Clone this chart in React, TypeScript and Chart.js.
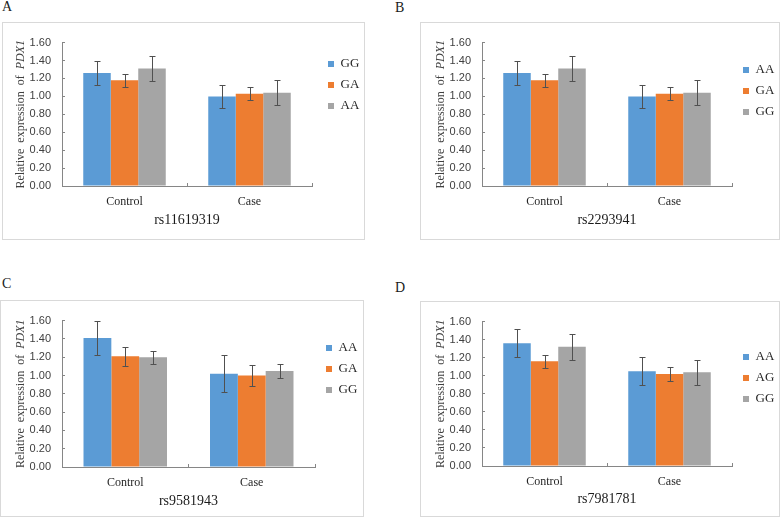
import React, { useEffect, useRef } from 'react';
import { Chart, registerables } from 'chart.js';

Chart.register(...registerables);

// ---------- data ----------
const categories = ['Control', 'Case'];
const yTicks = [0, 0.2, 0.4, 0.6, 0.8, 1.0, 1.2, 1.4, 1.6];
const seriesColors = ['#5B9BD5', '#ED7D31', '#A5A5A5'];

// Panel A (rs11619319)
const genotypesA = ['GG', 'GA', 'AA'];
const meansA = [[1.26, 1.0], [1.18, 1.03], [1.31, 1.04]];
const errorsA = [[0.13, 0.13], [0.07, 0.075], [0.14, 0.14]];

// Panel B (rs2293941)
const genotypesB = ['AA', 'GA', 'GG'];
const meansB = [[1.26, 1.0], [1.18, 1.03], [1.31, 1.04]];
const errorsB = [[0.13, 0.13], [0.07, 0.075], [0.14, 0.14]];

// Panel C (rs9581943)
const genotypesC = ['AA', 'GA', 'GG'];
const meansC = [[1.41, 1.02], [1.21, 1.0], [1.2, 1.05]];
const errorsC = [[0.19, 0.2], [0.105, 0.11], [0.07, 0.075]];

// Panel D (rs7981781)
const genotypesD = ['AA', 'AG', 'GG'];
const meansD = [[1.36, 1.05], [1.16, 1.02], [1.32, 1.04]];
const errorsD = [[0.155, 0.155], [0.075, 0.075], [0.14, 0.14]];

// ---------- plugins ----------
const framePlugin = {
  id: 'frame',
  beforeDraw(chart: any, _args: any, opts: any) {
    const { ctx } = chart;
    ctx.save();
    ctx.fillStyle = '#ffffff';
    ctx.fillRect(0, 0, chart.width, chart.height);
    ctx.strokeStyle = '#d9d9d9';
    ctx.lineWidth = 1;
    ctx.strokeRect(0.5, 0.5, opts.w - 1, opts.h - 1);
    ctx.restore();
  },
};

const errorBarPlugin = {
  id: 'errorBars',
  afterDatasetsDraw(chart: any) {
    const { ctx } = chart;
    const y = chart.scales.y;
    ctx.save();
    ctx.strokeStyle = '#505050';
    ctx.lineWidth = 1;
    chart.data.datasets.forEach((ds: any, i: number) => {
      const meta = chart.getDatasetMeta(i);
      meta.data.forEach((bar: any, j: number) => {
        const v = ds.data[j];
        const e = ds.errors[j];
        const x = Math.round(bar.x) + 0.5;
        const yt = Math.round(y.getPixelForValue(v + e)) + 0.5;
        const yb = Math.round(y.getPixelForValue(v - e)) + 0.5;
        ctx.beginPath();
        ctx.moveTo(x, yt);
        ctx.lineTo(x, yb);
        ctx.moveTo(x - 3, yt);
        ctx.lineTo(x + 3, yt);
        ctx.moveTo(x - 3, yb);
        ctx.lineTo(x + 3, yb);
        ctx.stroke();
      });
    });
    ctx.restore();
  },
};

const yTitlePlugin = {
  id: 'yTitle',
  afterDraw(chart: any) {
    const { ctx, chartArea } = chart;
    const a = 'Relative  expression  of  ';
    const b = 'PDX1';
    ctx.save();
    ctx.translate(chartArea.left - 41, (chartArea.top + chartArea.bottom) / 2);
    ctx.rotate(-Math.PI / 2);
    ctx.fillStyle = '#404040';
    ctx.textBaseline = 'middle';
    ctx.textAlign = 'left';
    ctx.font = '12px "Liberation Serif"';
    const wa = ctx.measureText(a).width;
    ctx.font = 'italic 12px "Liberation Serif"';
    const wb = ctx.measureText(b).width;
    const start = -(wa + wb) / 2;
    ctx.font = '12px "Liberation Serif"';
    ctx.fillText(a, start, 0);
    ctx.font = 'italic 12px "Liberation Serif"';
    ctx.fillText(b, start + wa, 0);
    ctx.restore();
  },
};

// ---------- panel ----------
type PanelCfg = {
  letter: string;
  letterPos: { x: number; y: number };
  box: { x: number; y: number; w: number; h: number };
  area: { left: number; top: number; bottom: number; right: number };
  legend: { x: number; y: number };
  titleOffset: number;
  title: string;
  series: string[];
  means: number[][];
  errors: number[][];
};

const LEG_FS = 13;
const LEG_PAD = 8;

function Panel({ cfg }: { cfg: PanelCfg }) {
  const ref = useRef<HTMLCanvasElement | null>(null);
  useEffect(() => {
    if (!ref.current) return;
    const { box, area, legend } = cfg;
    const spacer = legend.x - LEG_PAD - area.right;
    const titleH = legend.y - area.top - LEG_PAD - LEG_FS / 2;
    const xTitleLH = 14 * 1.2;
    const xTitlePadBottom = box.h - xTitleLH / 2 - (area.bottom + cfg.titleOffset);
    const options: any = {
      responsive: false,
      maintainAspectRatio: false,
      animation: false,
      layout: { padding: { left: 0, top: area.top, right: 0, bottom: 0 } },
      scales: {
        x: {
          type: 'category',
          offset: true,
          grid: { offset: true, drawOnChartArea: false, drawTicks: true, tickLength: -3, color: '#868686' },
          border: { display: true, color: '#868686', width: 1 },
          ticks: { font: { family: 'Liberation Serif', size: 12 }, color: '#262626', padding: 11.5, maxRotation: 0 },
          title: {
            display: true,
            text: cfg.title,
            font: { family: 'Liberation Serif', size: 14 },
            color: '#1a1a1a',
            padding: { top: 0, bottom: xTitlePadBottom },
          },
          afterFit: (s: any) => {
            s.height = box.h - area.bottom;
          },
        },
        y: {
          type: 'linear',
          min: yTicks[0],
          max: yTicks[yTicks.length - 1],
          afterBuildTicks: (s: any) => {
            s.ticks = yTicks.map((v) => ({ value: v }));
          },
          ticks: {
            callback: (v: any) => Number(v).toFixed(2),
            font: { family: 'Liberation Sans', size: 11 },
            color: '#404040',
            padding: 14,
          },
          grid: { drawOnChartArea: false, drawTicks: true, tickLength: -3, color: '#868686' },
          border: { display: true, color: '#868686', width: 1 },
          afterFit: (s: any) => {
            s.width = area.left;
          },
        },
        ySpacer: {
          type: 'linear',
          position: 'right',
          display: true,
          min: 0,
          max: 1,
          grid: { display: false, drawTicks: false },
          border: { display: false },
          ticks: { display: false },
          afterFit: (s: any) => {
            s.width = spacer;
          },
        },
      },
      plugins: {
        frame: { w: box.w, h: box.h },
        tooltip: { enabled: false },
        legend: {
          position: 'right',
          align: 'start',
          title: {
            display: true,
            text: ' ',
            font: { size: 1, lineHeight: 1 },
            padding: { top: titleH - 1, bottom: 0 },
          },
          labels: {
            boxWidth: 6,
            boxHeight: 6,
            padding: LEG_PAD,
            font: { family: 'Liberation Serif', size: LEG_FS },
            color: '#262626',
          },
        },
      },
    };
    const chart = new Chart(ref.current, {
      type: 'bar',
      data: {
        labels: categories,
        datasets: cfg.series.map((name, i) => ({
          label: name,
          data: cfg.means[i],
          errors: cfg.errors[i],
          backgroundColor: seriesColors[i],
          borderWidth: 0,
          categoryPercentage: 0.66,
          barPercentage: 1.0,
        })) as any,
      },
      options,
      plugins: [framePlugin, errorBarPlugin, yTitlePlugin],
    });
    // second pass: place legend exactly
    const leg: any = (chart as any).legend;
    if (leg) {
      const targetLeft = legend.x - LEG_PAD;
      const diff = leg.left - targetLeft;
      if (Math.abs(diff) > 0.01) {
        chart.options.layout = { padding: { left: 0, top: area.top, right: diff, bottom: 0 } } as any;
        chart.update();
      }
    }
    return () => chart.destroy();
  }, [cfg]);

  return (
    <>
      <div
        style={{
          position: 'absolute',
          left: cfg.letterPos.x,
          top: cfg.letterPos.y,
          fontFamily: '"Liberation Serif", serif',
          fontSize: 14,
          lineHeight: '14px',
          color: '#1a1a1a',
        }}
      >
        {cfg.letter}
      </div>
      <div style={{ position: 'absolute', left: cfg.box.x, top: cfg.box.y, width: cfg.box.w, height: cfg.box.h }}>
        <canvas
          ref={ref}
          width={cfg.box.w}
          height={cfg.box.h}
          style={{ display: 'block', width: cfg.box.w, height: cfg.box.h }}
        />
      </div>
    </>
  );
}

const panels: PanelCfg[] = [
  {
    letter: 'A',
    letterPos: { x: 2, y: 0 },
    box: { x: 2, y: 22, w: 363, h: 218 },
    area: { left: 60, top: 12, bottom: 164, right: 310 },
    legend: { x: 326, y: 42 },
    titleOffset: 34,
    title: 'rs11619319',
    series: genotypesA,
    means: meansA,
    errors: errorsA,
  },
  {
    letter: 'B',
    letterPos: { x: 395, y: 1 },
    box: { x: 420, y: 22, w: 360, h: 218 },
    area: { left: 62, top: 12, bottom: 164, right: 312 },
    legend: { x: 323, y: 48 },
    titleOffset: 34,
    title: 'rs2293941',
    series: genotypesB,
    means: meansB,
    errors: errorsB,
  },
  {
    letter: 'C',
    letterPos: { x: 2, y: 277 },
    box: { x: 0, y: 300, w: 364, h: 217 },
    area: { left: 62, top: 14, bottom: 167, right: 315 },
    legend: { x: 326, y: 48 },
    titleOffset: 34,
    title: 'rs9581943',
    series: genotypesC,
    means: meansC,
    errors: errorsC,
  },
  {
    letter: 'D',
    letterPos: { x: 395, y: 281 },
    box: { x: 420, y: 301, w: 360, h: 216 },
    area: { left: 62, top: 12, bottom: 165, right: 312 },
    legend: { x: 323, y: 56 },
    titleOffset: 33,
    title: 'rs7981781',
    series: genotypesD,
    means: meansD,
    errors: errorsD,
  },
];

export default function App() {
  return (
    <div
      style={{
        position: 'fixed',
        left: 0,
        top: 0,
        width: 784,
        height: 519,
        background: '#ffffff',
        overflow: 'hidden',
      }}
    >
      {panels.map((p) => (
        <Panel key={p.letter} cfg={p} />
      ))}
    </div>
  );
}
